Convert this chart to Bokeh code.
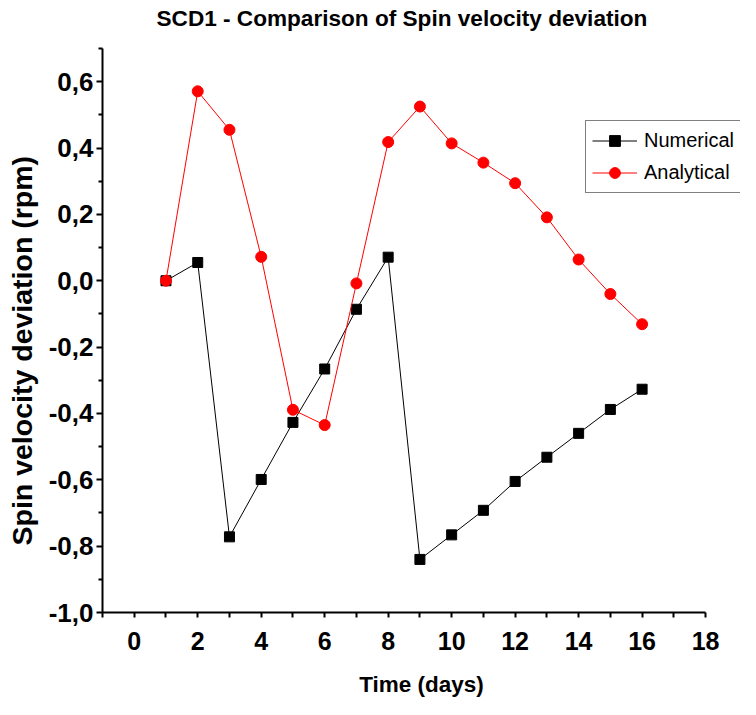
from bokeh.plotting import figure
from bokeh.models import Range1d, FixedTicker, Legend, LegendItem, Title
from bokeh.embed import file_html
from bokeh.resources import INLINE

days = [1, 2, 3, 4, 5, 6, 7, 8, 9, 10, 11, 12, 13, 14, 15, 16]
numerical = [0.0, 0.055, -0.772, -0.599, -0.427, -0.266, -0.086, 0.071,
             -0.840, -0.766, -0.692, -0.605, -0.532, -0.460, -0.388, -0.327]
analytical = [0.0, 0.571, 0.455, 0.072, -0.389, -0.435, -0.008, 0.418,
              0.525, 0.414, 0.356, 0.294, 0.191, 0.064, -0.040, -0.131]

x_ticks = [0, 2, 4, 6, 8, 10, 12, 14, 16, 18]
x_minor = [-1, 1, 3, 5, 7, 9, 11, 13, 15, 17]
y_ticks = [-1.0, -0.8, -0.6, -0.4, -0.2, 0.0, 0.2, 0.4, 0.6]
y_tick_labels = ["-1,0", "-0,8", "-0,6", "-0,4", "-0,2", "0,0", "0,2", "0,4", "0,6"]
y_minor = [-0.9, -0.7, -0.5, -0.3, -0.1, 0.1, 0.3, 0.5, 0.7]

FONT = "Liberation Sans"

p = figure(width=740, height=699, output_backend="svg", toolbar_location=None,
           x_range=Range1d(-1, 19.1), y_range=Range1d(-1.0, 0.7),
           min_border_left=101, min_border_right=0, min_border_top=48,
           min_border_bottom=87)

p.title.text = "SCD1 - Comparison of Spin velocity deviation"
p.title.align = "left"
p.title.vertical_align = "bottom"
p.title.offset = 54
p.title.text_font = FONT
p.title.text_font_style = "bold"
p.title.text_font_size = "22.6px"
p.title.text_color = "black"
if "padding" in p.title.properties():
    p.title.padding = dict(top=0, right=0, bottom=18, left=0)
    p.title.standoff = 0
else:
    p.title.standoff = 20

p.outline_line_color = None
p.xgrid.visible = False
p.ygrid.visible = False

p.xaxis.ticker = FixedTicker(ticks=x_ticks, minor_ticks=x_minor)
p.xaxis.bounds = (-1, 18)
p.yaxis.ticker = FixedTicker(ticks=y_ticks, minor_ticks=y_minor)
p.yaxis.major_label_overrides = dict(zip(y_ticks, y_tick_labels))

for ax in (p.xaxis[0], p.yaxis[0]):
    ax.axis_line_width = 2
    ax.axis_line_color = "black"
    ax.major_tick_line_width = 2
    ax.minor_tick_line_width = 2
    ax.major_tick_line_color = "black"
    ax.minor_tick_line_color = "black"
    ax.major_tick_in = 0
    ax.minor_tick_in = 0
    ax.major_label_text_font = FONT
    ax.major_label_text_font_style = "bold"
    ax.major_label_text_color = "black"
    ax.axis_label_text_font = FONT
    ax.axis_label_text_font_style = "bold"
    ax.axis_label_text_color = "black"

p.xaxis.major_tick_out = 5
p.xaxis.minor_tick_out = 5
p.xaxis.major_label_text_font_size = "25px"
p.xaxis.major_label_standoff = 14
p.xaxis.axis_label = "Time (days)"
p.xaxis.axis_label_text_font_size = "22.5px"
p.xaxis.axis_label_standoff = 19

p.yaxis.major_tick_out = 6
p.yaxis.minor_tick_out = 4
p.yaxis.major_label_text_font_size = "26px"
p.yaxis.major_label_standoff = 3

ytitle = Title(text="Spin velocity deviation (rpm)", align="left", offset=67,
               vertical_align="top",
               text_font=FONT, text_font_style="bold", text_font_size="28.5px",
               text_color="black", standoff=11)
p.add_layout(ytitle, "left")

l1 = p.line(days, numerical, line_color="black", line_width=1)
m1 = p.scatter(days, numerical, marker="square", size=10, fill_color="black",
               line_color="black")
l2 = p.line(days, analytical, line_color="red", line_width=1)
m2 = p.scatter(days, analytical, marker="circle", size=11, fill_color="red",
               line_color="red")

legend = Legend(items=[LegendItem(label="Numerical", renderers=[l1, m1]),
                       LegendItem(label="Analytical", renderers=[l2, m2])],
                location=(483, 419))
legend.label_text_font = FONT
legend.label_text_font_size = "20px"
legend.label_text_color = "black"
legend.glyph_width = 45
legend.glyph_height = 27
legend.spacing = 5
legend.padding = 6
legend.label_standoff = 7
legend.border_line_color = "black"
legend.border_line_width = 1
legend.background_fill_alpha = 1
legend.margin = 0
p.add_layout(legend, "center")

open("out.html", "w").write(file_html(p, INLINE))
